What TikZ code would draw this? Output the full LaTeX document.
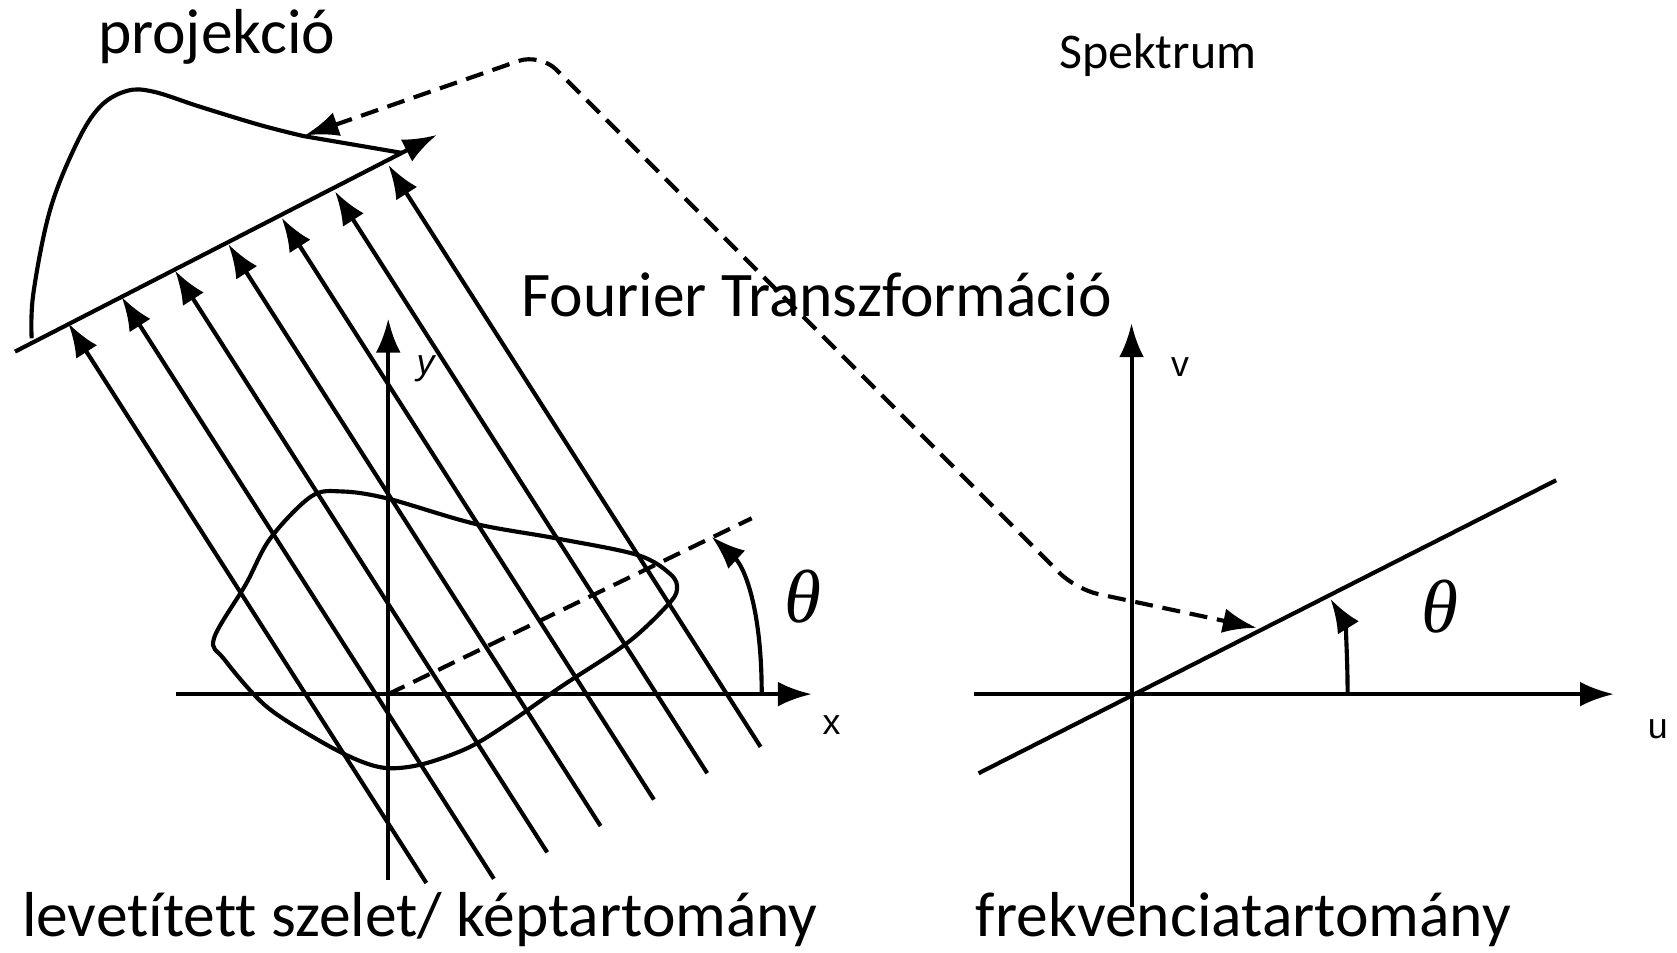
\documentclass[tikz,border=0pt]{standalone}
\usepackage{fontspec}
\setmainfont{Carlito}[Ligatures=NoCommon]
\newfontfamily\axfont{Liberation Sans}
\newfontfamily\thfont{Liberation Serif}
\usepackage{tikz}
\usetikzlibrary{arrows.meta,calc}
\usepackage{xcolor}
\definecolor{ink}{HTML}{000000}

\begin{document}
\begin{tikzpicture}[
    stroke/.style={ink,line width=1.1pt},
    arr/.style={stroke,-{Latex[length=9pt,width=6.6pt]}},
    guide/.style={stroke,dash pattern=on 4.8pt off 2.6pt},
    caption/.style={font=\fontsize{16.9}{20}\selectfont,inner sep=0pt,anchor=base},
    axlabel/.style={font=\axfont\fontsize{9.5}{11}\selectfont,inner sep=0pt},
    anglabel/.style={font=\thfont\itshape\fontsize{20}{24}\selectfont,inner sep=0pt}]
  \fill[white] (0,0) rectangle (15.68,8.91);
  \useasboundingbox (0,0) rectangle (15.68,8.91);

  % image domain
  \coordinate (O) at (3.63,2.42);
  \draw[arr] (1.645,2.42) -- (7.59,2.42);
  \draw[arr] (3.63,0.682) -- (3.63,5.93);
  \node[axlabel] (xl) at (7.776,2.131) {x};
  \node[axlabel,font=\axfont\itshape\fontsize{9.5}{11}\selectfont] (yl) at (3.98,5.46) {y};
  \draw[stroke] plot[smooth cycle,tension=0.55] coordinates {
    (2.0,2.94) (2.30,3.45) (2.528,3.877) (2.909,4.268) (3.195,4.315) (3.624,4.249)
    (4.435,4.014) (5.198,3.877) (5.961,3.721) (6.27,3.54) (6.33,3.40) (6.24,3.25)
    (5.866,2.90) (5.246,2.49) (4.769,2.158) (4.387,1.923) (3.958,1.767) (3.624,1.728)
    (3.338,1.806) (2.957,2.002) (2.48,2.314) (2.098,2.744)};
  \coordinate (dir) at (7.028,4.064);
  \draw[guide] (O) -- (dir);
  \draw[arr] (7.122,2.42) .. controls (7.122,3.25) and (6.95,3.62) .. (6.654,3.892);
  \node[anglabel] (thl) at (7.511,3.331) {θ};

  % projection
  \coordinate (bl) at (0.14,5.622);
  \coordinate (br) at (4.083,7.648);
  \draw[arr] (bl) -- (br);
  \foreach \f [count=\k from 0] in {0.962,1,1,1,1,1,1} {
    \coordinate (tip\k) at ($(0.639,5.887)+\k*(0.4987,0.2467)$);
    \draw[arr] ($(tip\k)+\f*(3.48,-5.44)$) -- (tip\k);
  }
  \draw[stroke] plot[smooth,tension=0.6] coordinates {
    (0.296,5.747) (0.312,6.167) (0.468,6.946) (0.717,7.57) (0.935,7.912)
    (1.184,8.059) (1.434,8.053) (1.87,7.912) (2.431,7.741) (2.836,7.638)}
    -- (3.76,7.48);
  \coordinate (pk) at (2.85,7.644);

  % frequency domain
  \coordinate (R) at (10.58,2.42);
  \draw[arr] (9.11,2.42) -- (15.09,2.42);
  \draw[arr] (10.58,0.43) -- (10.58,5.887);
  \node[axlabel] (ul) at (15.50,2.09) {u};
  \node[axlabel] (vl) at (11.033,5.482) {v};
  \draw[stroke] (9.15,1.68) -- (14.55,4.42);
  \draw[arr] (12.60,2.42) .. controls (12.60,2.85) and (12.57,3.10) .. (12.44,3.31);
  \node[anglabel] (thr) at (13.46,3.24) {θ};
  \coordinate (sk) at (11.75,3.04);

  % Fourier link
  \draw[guide,{Latex[length=9pt,width=6.6pt]}-{Latex[length=9pt,width=6.6pt]},rounded corners=6pt]
    (pk) -- (5.05,8.41) -- (10.06,3.40) -- (sk);

  \node[caption] (proj) at (2.025,8.41) {projekció};
  \node[caption,font=\fontsize{13.3}{16}\selectfont] (spec) at (10.825,8.27) {Spektrum};
  \node[caption] (ft) at (7.635,5.95) {Fourier Transzformáció};
  \node[caption] (img) at (3.925,0.15) {levetített szelet/ képtartomány};
  \node[caption] (freq) at (11.625,0.15) {frekvenciatartomány};
\end{tikzpicture}
\end{document}
